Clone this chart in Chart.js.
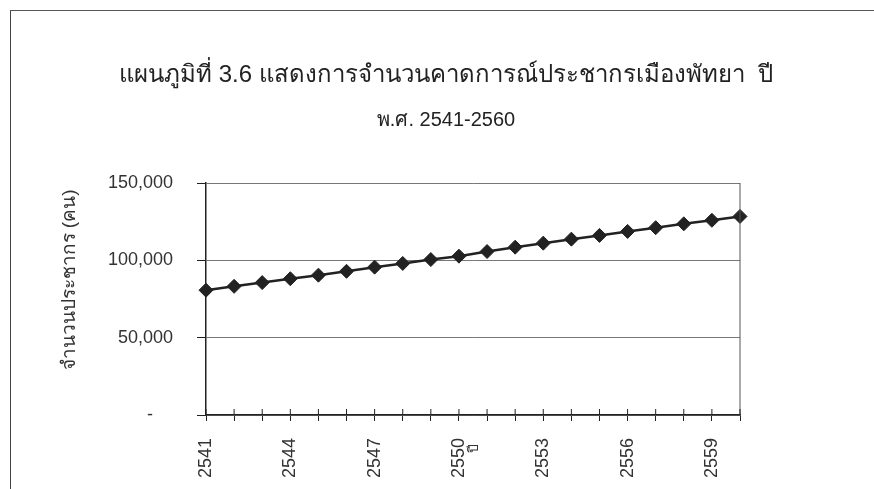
<!DOCTYPE html>
<html lang="th">
<head>
<meta charset="utf-8">
<title>แผนภูมิที่ 3.6</title>
<script src="https://cdn.jsdelivr.net/npm/chart.js@4.4.1/dist/chart.umd.min.js"></script>
<style>
  html, body { margin: 0; padding: 0; background: #fff; }
  #wrap { position: relative; width: 874px; height: 489px; overflow: hidden; }
  #frame {
    position: absolute; left: 10px; top: 10px; width: 900px; height: 520px;
    border-left: 1.5px solid #444; border-top: 1.5px solid #555;
  }
  canvas { position: absolute; left: 0; top: 0; }
</style>
</head>
<body>
<div id="wrap">
  <div id="frame"></div>
  <canvas id="chart-pop" width="874" height="489"></canvas>
</div>
<script>
'use strict';

// ── Datos ───────────────────────────
const TITLE_LINES = ['แผนภูมิที่ 3.6 แสดงการจำนวนคาดการณ์ประชากรเมืองพัทยา  ปี', 'พ.ศ. 2541-2560'];
const Y_TITLE = 'จำนวนประชากร (คน)';
const X_TITLE = 'ปี';

const years = ['2541','2542','2543','2544','2545','2546','2547','2548','2549','2550',
               '2551','2552','2553','2554','2555','2556','2557','2558','2559','2560'];
const population = [80700, 83200, 85600, 88100, 90400, 92900, 95600, 98000, 100500, 102700,
                    105700, 108500, 111100, 113700, 116100, 118700, 121100, 123600, 125900, 128400];
const shownYears = ['2541','2544','2547','2550','2553','2556','2559'];
const yTicks = [0, 50000, 100000, 150000];

const FONT = "'Liberation Sans', Arial, 'Noto Sans', sans-serif";
const INK = '#222';

// ── Títulos, ejes y marcas interiores ─────
const extrasPlugin = {
  id: 'extras',
  afterDraw(chart) {
    const { ctx, chartArea: a, scales: { x } } = chart;
    ctx.save();

    // borde derecho del área
    ctx.strokeStyle = '#555';
    ctx.lineWidth = 1;
    ctx.beginPath();
    ctx.moveTo(a.right, a.top);
    ctx.lineTo(a.right, a.bottom);
    ctx.stroke();

    // marcas del eje X hacia dentro
    ctx.strokeStyle = INK;
    ctx.beginPath();
    x.ticks.forEach((t, i) => {
      const px = x.getPixelForTick(i);
      ctx.moveTo(px, a.bottom - 6);
      ctx.lineTo(px, a.bottom);
    });
    ctx.stroke();

    ctx.fillStyle = '#222';
    ctx.textAlign = 'center';
    ctx.textBaseline = 'middle';

    // título en dos líneas, centrado sobre la figura
    ctx.font = '24px ' + FONT;
    ctx.fillText(TITLE_LINES[0], 446, 75);
    ctx.font = '20px ' + FONT;
    ctx.fillText(TITLE_LINES[1], 446, 120);

    ctx.fillStyle = '#333';
    // título eje Y
    ctx.save();
    ctx.translate(70, (a.top + a.bottom) / 2 - 19);
    ctx.rotate(-Math.PI / 2);
    ctx.font = '19px ' + FONT;
    ctx.fillText(Y_TITLE, 0, 0);
    ctx.restore();

    // título eje X (girado como las etiquetas)
    ctx.save();
    ctx.translate((a.left + a.right) / 2 + 1, a.bottom + 33);
    ctx.rotate(-Math.PI / 2);
    ctx.font = '14px ' + FONT;
    ctx.fillText(X_TITLE, 0, 0);
    ctx.restore();

    ctx.restore();
  }
};

new Chart(document.getElementById('chart-pop'), {
  type: 'line',
  data: {
    labels: years,
    datasets: [{
      data: population,
      borderColor: INK,
      borderWidth: 2.5,
      pointStyle: 'rectRot',
      pointRadius: 7,
      pointBackgroundColor: INK,
      pointBorderColor: INK,
      pointBorderWidth: 1,
      tension: 0,
      fill: false,
    }]
  },
  options: {
    responsive: false,
    animation: false,
    devicePixelRatio: 1,
    layout: { padding: { left: 0, right: 134, top: 183, bottom: 0 } },
    plugins: {
      legend: { display: false },
      tooltip: { enabled: false },
      title: { display: false }
    },
    scales: {
      x: {
        type: 'category',
        offset: false,
        afterFit: (s) => { s.height = 74; },
        grid: { display: true, drawOnChartArea: false, tickLength: 6, tickColor: INK },
        border: { display: true, color: INK, width: 1.5 },
        ticks: {
          autoSkip: false,
          maxRotation: 90,
          minRotation: 90,
          padding: 17,
          color: '#333',
          font: { family: FONT, size: 18 },
          callback: function (v) {
            const lab = this.getLabelForValue(v);
            return shownYears.includes(lab) ? lab : '';
          }
        }
      },
      y: {
        min: yTicks[0],
        max: yTicks[yTicks.length - 1],
        afterFit: (s) => { s.width = 206; },
        afterBuildTicks: (s) => { s.ticks = yTicks.map(v => ({ value: v })); },
        grid: { color: '#777', lineWidth: 1, tickLength: 9, tickColor: INK },
        border: { display: true, color: INK, width: 1.5 },
        ticks: {
          padding: 24,
          color: '#333',
          font: { family: FONT, size: 18 },
          callback: (v) => v === 0 ? '-    ' : v.toLocaleString('en-US')
        }
      }
    }
  },
  plugins: [extrasPlugin]
});
</script>
</body>
</html>
